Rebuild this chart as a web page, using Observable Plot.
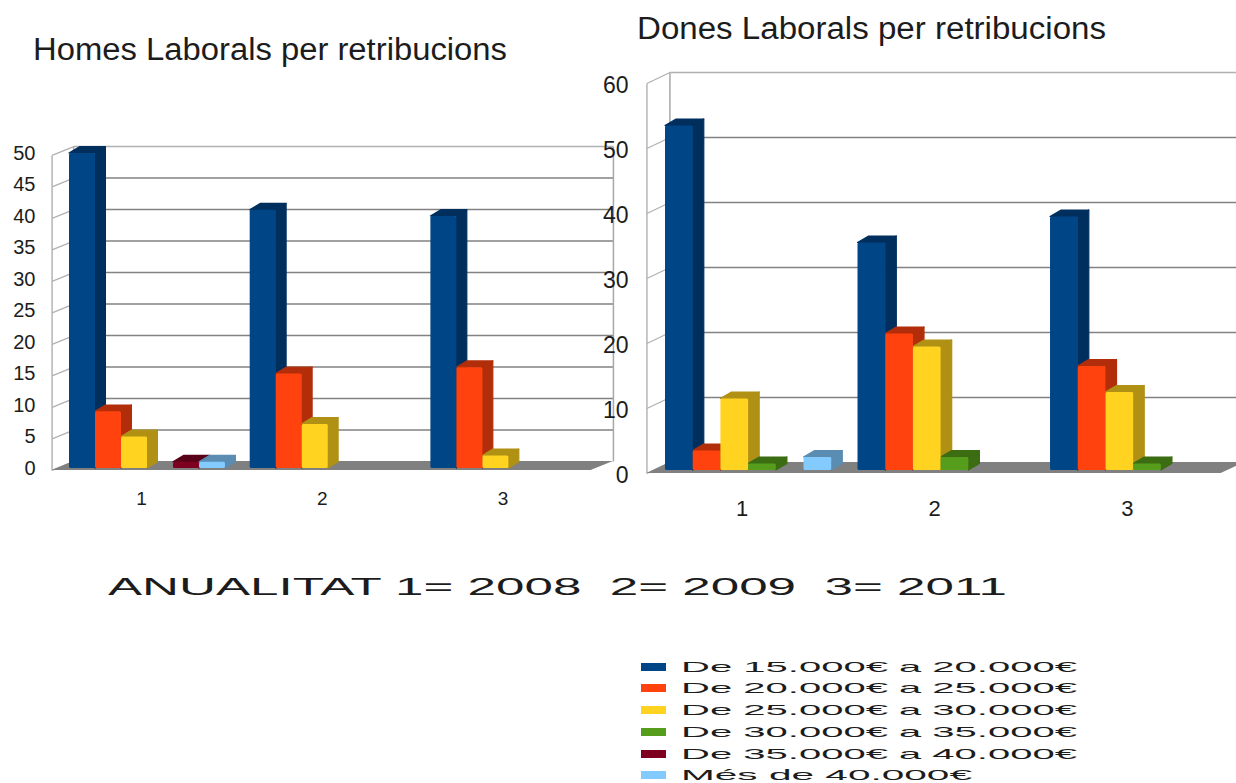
<!DOCTYPE html>
<html lang="ca">
<head>
<meta charset="utf-8">
<script src="https://cdn.jsdelivr.net/npm/d3@7"></script>
<script src="https://cdn.jsdelivr.net/npm/@observablehq/plot@0.6"></script>
<style>
html,body{margin:0;padding:0;background:#fff;width:1236px;height:783px;overflow:hidden;font-family:"Liberation Sans",Arial,sans-serif;color:#1c1c1c}
.panel{position:absolute}
.fit{position:absolute;white-space:pre;transform-origin:0 50%;line-height:1}
.sw{position:absolute;width:25px;height:8px}
</style>
</head>
<body>
<script>
// ---- data ----
const groups = ["1", "2", "3"];
const ranges = ["De 15.000€ a 20.000€", "De 20.000€ a 25.000€", "De 25.000€ a 30.000€",
                "De 30.000€ a 35.000€", "De 35.000€ a 40.000€", "Més de 40.000€"];
// one array per pay band, one value per year
const homes15 = [50, 41, 40];
const homes20 = [9, 15, 16];
const homes25 = [5, 7, 2];
const homes30 = [0, 0, 0];
const homes35 = [1, 0, 0];
const homes40 = [1, 0, 0];
const dones15 = [53, 35, 39];
const dones20 = [3, 21, 16];
const dones25 = [11, 19, 12];
const dones30 = [1, 2, 1];
const dones35 = [0, 0, 0];
const dones40 = [2, 0, 0];
const homesTicks = [0, 5, 10, 15, 20, 25, 30, 35, 40, 45, 50];
const donesTicks = [0, 10, 20, 30, 40, 50, 60];
const frontColors = ["#004586", "#ff420e", "#ffd320", "#579d1c", "#7e0021", "#83caff"];
const sideColors  = ["#002f5e", "#b22e0a", "#b09114", "#3c6d13", "#580017", "#5b8db2"];

const titleLeft = "Homes Laborals per retribucions";
const titleRight = "Dones Laborals per retribucions";
const caption = "ANUALITAT 1= 2008  2= 2009  3= 2011";

// ---- 3D chart built from Plot marks, all in data units ----
const groupStep = 6.95, labelSlot = 2.77, depthX = 0.4, depthY = 1;

function chart({series, ticks, top, ox, oy, width, height, xRange, yRange, marginLeft, marginBottom,
                fontSize, xFontSize, tickDy, backOff, frontOff, rightWall}) {
  const wallF = -0.67, wallB = 0.16, floorF = 20.06, floorB = 20.92;
  const fronts = [], depth = [];
  series.forEach((vals, s) => vals.forEach((v, g) => {
    if (!(v > 0)) return;
    const x0 = g * groupStep + s, x1 = x0 + 1, id = `${g}-${s}`, fill = sideColors[s];
    fronts.push({x1: x0, x2: x1, y1: 0, y2: v, fill: frontColors[s]});
    depth.push({id: id + "side", fill, x: x1, y1: 0, y2: v});
    depth.push({id: id + "side", fill, x: x1 + depthX, y1: depthY, y2: v + depthY});
    depth.push({id: id + "top", fill, x: x0, y1: v, y2: v});
    depth.push({id: id + "top", fill, x: x0 + depthX, y1: v, y2: v + depthY});
    depth.push({id: id + "top", fill, x: x1, y1: v, y2: v + depthY});
    depth.push({id: id + "top", fill, x: x1 + depthX, y1: v + depthY, y2: v + depthY});
  }));
  fronts.sort((a, b) => a.x1 - b.x1);
  const floor = [
    {x: wallF, y1: frontOff, y2: frontOff},
    {x: wallB, y1: frontOff, y2: backOff},
    {x: floorF, y1: frontOff, y2: backOff},
    {x: floorB, y1: backOff, y2: backOff}
  ];
  const inner = ticks.filter(t => t > 0 && t < top);
  const marks = [
    // walls
    Plot.link([{}], {x1: wallF, x2: wallF, y1: frontOff, y2: top + frontOff, stroke: "#b5b5b5", strokeWidth: 1.5}),
    Plot.link([{}], {x1: wallB, x2: wallB, y1: backOff, y2: top + backOff, stroke: "#a8a8a8", strokeWidth: 1.5}),
    Plot.link(ticks, {x1: wallF, x2: wallB, y1: d => d + frontOff, y2: d => d + backOff, stroke: "#b0b0b0", strokeWidth: 1.2}),
    Plot.link([{}], {x1: wallB, x2: floorB + (rightWall ? 0 : 2), y1: top + backOff, y2: top + backOff, stroke: "#b0b0b0", strokeWidth: 1.5}),
    Plot.link(inner, {x1: wallB, x2: floorB + (rightWall ? 0 : 2), y1: d => d + backOff, y2: d => d + backOff, stroke: "#828282", strokeWidth: 1.6})
  ];
  if (rightWall) {
    marks.push(Plot.link([{}], {x1: floorB, x2: floorB, y1: backOff, y2: top + backOff, stroke: "#a8a8a8", strokeWidth: 1.5}));
  }
  marks.push(
    Plot.areaY(floor, {x: "x", y1: "y1", y2: "y2", fill: "#808080"}),
    Plot.areaY(depth, {x: "x", y1: "y1", y2: "y2", z: "id", fill: "fill", stroke: "fill", strokeWidth: 1.2, strokeLinejoin: "round"}),
    Plot.rect(fronts, {x1: "x1", x2: "x2", y1: "y1", y2: "y2", fill: "fill", inset: 0, rx: 1.5}),
    Plot.axisY({anchor: "left", ticks, tickSize: 0, tickPadding: 0, label: null, fontSize, dy: tickDy, fill: "#1c1c1c"}),
    Plot.axisX({anchor: "bottom", ticks: groups.map((_, i) => i * groupStep + labelSlot),
                tickFormat: (d, i) => groups[i], tickSize: 0, tickPadding: 0, label: null, fontSize: xFontSize, fill: "#1c1c1c"})
  );
  const svg = Plot.plot({
    width, height, marginLeft, marginBottom, marginTop: 0, marginRight: 0,
    x: {domain: [0, 21], range: xRange},
    y: {domain: [0, top], range: yRange},
    color: {type: "identity"},
    style: {background: "transparent", overflow: "visible", fontFamily: "'Liberation Sans',Arial,sans-serif"},
    marks
  });
  svg.classList.add("panel");
  svg.style.left = ox + "px";
  svg.style.top = oy + "px";
  document.body.appendChild(svg);
}

chart({
  series: [homes15, homes20, homes25, homes30, homes35, homes40],
  ticks: homesTicks, top: 50, ox: 0, oy: 130, width: 620, height: 380,
  xRange: [69, 69 + 21 * 26], yRange: [468 - 130, 153 - 130],
  marginLeft: 35, marginBottom: 19, fontSize: 20, xFontSize: 19, tickDy: 0, backOff: 1.1, frontOff: -0.3, rightWall: true
});
chart({
  series: [dones15, dones20, dones25, dones30, dones35, dones40],
  ticks: donesTicks, top: 60, ox: 590, oy: 60, width: 646, height: 470,
  xRange: [665 - 590, 665 - 590 + 21 * 27.7], yRange: [470 - 60, 80 - 60],
  marginLeft: 38, marginBottom: 30, fontSize: 23, xFontSize: 22, tickDy: 5, backOff: 1.23, frontOff: -0.45, rightWall: false
});

// ---- text stretched to the reference's widths ----
function fit(text, left, cy, targetW, size) {
  const el = document.createElement("div");
  el.className = "fit";
  el.textContent = text;
  el.style.left = left + "px";
  el.style.fontSize = size + "px";
  el.style.top = (cy - size / 2) + "px";
  document.body.appendChild(el);
  const w = el.getBoundingClientRect().width;
  el.style.transform = `scaleX(${targetW / w})`;
}
fit(titleLeft, 33, 49, 474, 31);
fit(titleRight, 637, 28, 469, 31);
fit(caption, 108, 587, 899, 24);

const rowY = [666, 687, 709, 731, 753, 774];
ranges.forEach((r, i) => {
  const sw = document.createElement("div");
  sw.className = "sw";
  sw.style.left = "641px";
  sw.style.top = (rowY[i] - 3) + "px";
  sw.style.background = frontColors[i];
  document.body.appendChild(sw);
  fit(r, 681, rowY[i], i < 5 ? 396 : 291, 15);
});
</script>
</body>
</html>
